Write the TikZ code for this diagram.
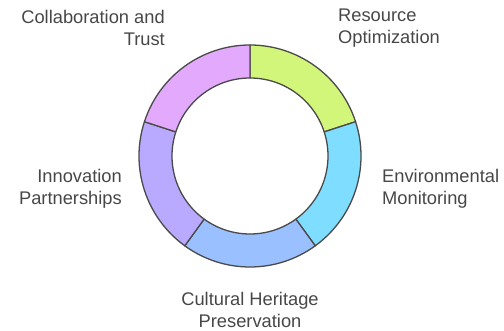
\documentclass[tikz,border=0pt]{standalone}
\usepackage{fontspec}
\setmainfont{Liberation Sans}
\usetikzlibrary{positioning}

\definecolor{ringline}{HTML}{4A4A4A}
\definecolor{labeltext}{HTML}{474747}
\definecolor{segGreen}{HTML}{D2F67A}
\definecolor{segCyan}{HTML}{7FDEFF}
\definecolor{segBlue}{HTML}{9BC0FF}
\definecolor{segLav}{HTML}{B9A9FF}
\definecolor{segPink}{HTML}{E2A9FD}

\begin{document}
\begin{tikzpicture}[
  x=1pt, y=1pt,
  font=\fontsize{18.3}{22}\selectfont,
  seg/.style  ={draw=ringline, line width=1.3pt, line join=round},
  lbl/.style  ={text=labeltext, inner sep=0pt},
  lblL/.style ={lbl, align=left, anchor=west},
  lblR/.style ={lbl, align=right, anchor=east},
]
\useasboundingbox (0,0) rectangle (504,330);

%% ---------------- ring ----------------
\begin{scope}[shift={(250,174)}]
  \foreach \a/\c in {90/segGreen, 18/segCyan, -54/segBlue, -126/segLav, -198/segPink}{
    \filldraw[seg, fill=\c] (\a:111) arc[start angle=\a, end angle=\a-72, radius=111]
      -- (\a-72:78) arc[start angle=\a-72, end angle=\a, radius=78] -- cycle;
  }
  \coordinate (hub) at (0,0);
\end{scope}

%% ---------------- labels ----------------
\node[lblL] (resopt) at (338,302) {Resource\\Optimization};
\node[lblL] (envmon) at (382,141) {Environmental\\Monitoring};
\node[lbl, align=center, anchor=center] (cultural) at (250,20) {Cultural Heritage\\Preservation};
\node[lblR] (innov)  at (122,141) {Innovation\\Partnerships};
\node[lblR] (collab) at (165,302) {Collaboration and\\Trust};

\end{tikzpicture}
\end{document}
